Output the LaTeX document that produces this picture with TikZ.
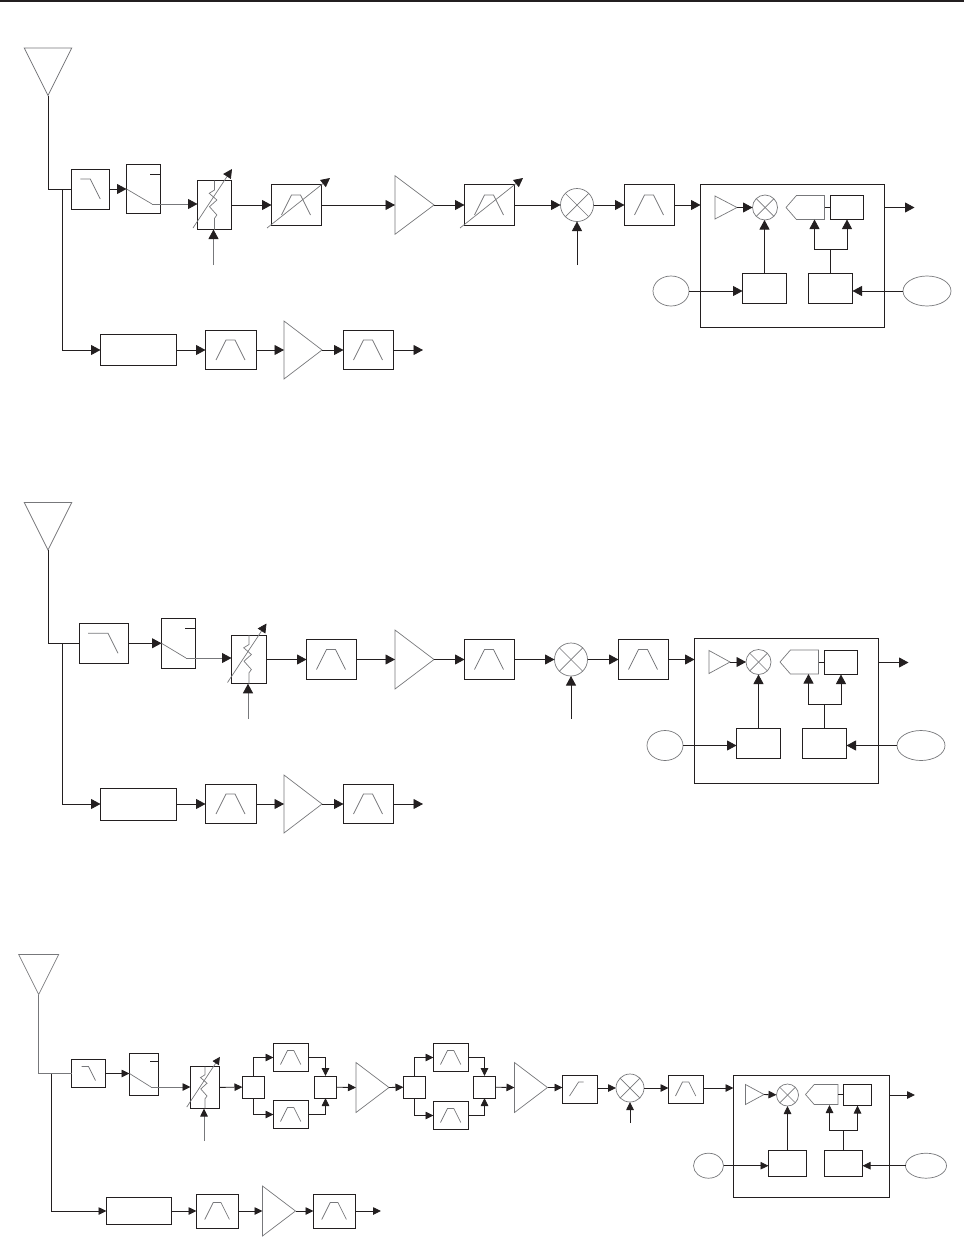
\documentclass[tikz,border=0pt]{standalone}
\usetikzlibrary{arrows.meta,shapes.geometric,shapes.symbols}
\definecolor{ink}{HTML}{231F20}
\definecolor{thinline}{HTML}{77787B}
\tikzset{
  wire/.style={draw=ink, line width=0.9pt},
  glyph/.style={draw=thinline, line width=0.7pt},
  arr/.style={wire, -{Triangle[length=9.5pt,width=10pt,ink]}},
  arrs/.style={wire, -{Triangle[length=8pt,width=7.5pt,ink]}},
  vtip/.style={-{Triangle[length=9pt,width=9pt,ink]}},
  blk/.style 2 args={wire, rectangle, minimum width=#1pt, minimum height=#2pt, inner sep=0pt, outer sep=0pt},
  amp/.style 2 args={glyph, isosceles triangle, isosceles triangle stretches, minimum height=#1pt, minimum width=#2pt, inner sep=0pt, outer sep=0pt, anchor=lower side},
  ant/.style={amp={#1}{#1}, shape border rotate=270},
  mix/.style={glyph, circle, minimum size=#1pt, inner sep=0pt, outer sep=0pt, path picture={
    \draw[glyph] (path picture bounding box.north west) -- (path picture bounding box.south east);
    \draw[glyph] (path picture bounding box.south west) -- (path picture bounding box.north east);}},
  osc/.style 2 args={glyph, ellipse, minimum width=#1pt, minimum height=#2pt, inner sep=0pt, outer sep=0pt},
  pent/.style 2 args={glyph, signal, signal to=west, signal pointer angle=98, minimum width=#1pt, minimum height=#2pt, inner sep=0pt, outer sep=0pt, anchor=east},
  bandpass/.pic={\draw[glyph] (-15,10) -- (-5,-10) -- (4,-10) -- (14,10);},
  highpass/.pic={\draw[glyph] (-15,10) -- (-2,-10) -- (5,-10);},
  lowpass/.pic={\draw[glyph] (#1,-10) -- (0,-10) -- (10,10);},
  zigzag/.pic={\draw[glyph] (0,-24.5) -- (0,-15) -- (-5.3,-11.7) -- (2.4,-5) -- (-5,1.7) -- (2.4,10) -- (0,13.3) -- (0,24.5);
    \draw[glyph, vtip] (-21.5,23) -- (17.5,-36);},
  tune/.pic={\draw[glyph, vtip] (-29.5,23) -- (33.5,-27);},
}

\begin{document}
\begin{tikzpicture}[x=1pt, y=-1pt]
  \useasboundingbox (0,0) rectangle (964,1237);
  \fill[ink] (0,0) rectangle (964,2.4);

  \node[ant=47.5] (an1) at (48,48) {};
  \node[blk={38.5}{40}] (lp1) at (90.25,189) {};
  \node[blk={34}{48.5}] (sw1) at (143.5,188.75) {};
  \node[blk={34}{49}] (at1) at (214.5,205) {};
  \node[blk={50}{41}] (vb1) at (296.5,205) {};
  \node[amp={39}{58.5}] (am1) at (395,205) {};
  \node[blk={50}{41}] (vb2) at (489.5,205) {};
  \node[mix=33] (mx1) at (577,205) {};
  \node[blk={50}{41}] (bp1) at (649.5,205) {};
  \node[blk={184}{142.5}] (bb1) at (792.5,255.75) {};
  \node[amp={22}{23}] (ia1) at (715,207.5) {};
  \node[mix=25] (im1) at (765,207.5) {};
  \node[pent={38.5}{24}] (pn1) at (824.5,207.5) {};
  \node[blk={33}{24}] (sb1) at (847,207.5) {};
  \node[blk={44}{30}] (cl1) at (764.5,288.5) {};
  \node[blk={44}{30}] (cr1) at (830.5,288.5) {};
  \node[osc={36}{30}] (el1) at (671,291) {};
  \node[osc={48}{30}] (el2) at (927,291) {};
  \node[blk={76}{31}] (ln1) at (138.5,350) {};
  \node[blk={51}{39.5}] (bq1) at (231,350) {};
  \node[amp={38}{58}] (aq1) at (284,350) {};
  \node[blk={50}{39.5}] (br1) at (368.5,350) {};
  \coordinate (jn1) at (62,189);
  \coordinate (sk1) at (152,204);
  \coordinate (ct1) at (150,174);
  \coordinate (cn1) at (213.5,265);
  \coordinate (cm1) at (577,265);
  \coordinate (fk1) at (830.5,249.5);
  \coordinate (pi1) at (814.5,219.5);
  \coordinate (ou1) at (914.5,207.5);
  \coordinate (ou2) at (423,350);
  \pic at (lp1.center) {lowpass=-10};
  \pic at (at1.center) {zigzag};
  \pic at (vb1.center) {bandpass};
  \pic at (vb1.center) {tune};
  \pic at (vb2.center) {bandpass};
  \pic at (vb2.center) {tune};
  \pic at (bp1.center) {bandpass};
  \pic at (bq1.center) {bandpass};
  \pic at (br1.center) {bandpass};
  \draw[wire] (an1.apex) |- (lp1.west);
  \draw[arr] (jn1) |- (ln1);
  \draw[arr] (lp1) -- (lp1 -| sw1.west);
  \draw[glyph] (lp1 -| sw1.west) -- (sk1);
  \draw[arr, draw=thinline] (sk1) -- (sk1 -| at1.west);
  \draw[wire] (ct1) -- (ct1 -| sw1.east);
  \draw[arr, draw=thinline] (cn1) -- (cn1 |- at1.south);
  \draw[arr] (at1) -- (vb1);
  \draw[arr] (vb1) -- (am1.lower side);
  \draw[arr] (am1.apex) -- (vb2);
  \draw[arr] (vb2) -- (mx1);
  \draw[arr] (cm1) -- (mx1);
  \draw[arr] (mx1) -- (bp1);
  \draw[arr] (bp1) -- (bp1 -| bb1.west);
  \draw[arr] (ia1.apex) -- (im1);
  \draw[wire] (pn1.east) -- (sb1);
  \draw[arr] (cl1) -- (cl1 |- im1.south);
  \draw[wire] (cr1) -- (fk1);
  \draw[arr] (fk1) -| (pi1);
  \draw[arr] (fk1) -| (sb1);
  \draw[arr] (el1) -- (el1 -| cl1.west);
  \draw[arr] (el2) -- (el2 -| cr1.east);
  \draw[arr] (sb1 -| bb1.east) -- (ou1);
  \draw[arr] (ln1) -- (bq1);
  \draw[arr] (bq1) -- (aq1.lower side);
  \draw[arr] (aq1.apex) -- (br1);
  \draw[arr] (br1) -- (ou2);

  \node[ant=47.5] (an2) at (48,502.5) {};
  \node[blk={49}{39.5}] (lp2) at (104,643.25) {};
  \node[blk={34}{49.5}] (sw2) at (178.5,643.25) {};
  \node[blk={35}{48.5}] (at2) at (249,659.5) {};
  \node[blk={50}{40}] (bp2) at (331.5,659.5) {};
  \node[amp={39}{59}] (am2) at (395,659.5) {};
  \node[blk={50}{40}] (bp3) at (489.5,659.5) {};
  \node[mix=33] (mx2) at (571,659.5) {};
  \node[blk={50}{40}] (bp4) at (643.5,659.5) {};
  \node[blk={184}{144.5}] (bb2) at (786.5,710.75) {};
  \node[amp={21}{23}] (ia2) at (709,662) {};
  \node[mix=25] (im2) at (758.5,662) {};
  \node[pent={38.5}{24}] (pn2) at (818.5,662) {};
  \node[blk={33}{24}] (sb2) at (841,662.5) {};
  \node[blk={44}{30}] (cl2) at (758.5,743.5) {};
  \node[blk={44}{30}] (cr2) at (824.5,743.5) {};
  \node[osc={36}{30}] (el3) at (665,745.5) {};
  \node[osc={48}{30}] (el4) at (921,745.5) {};
  \node[blk={76}{32}] (ln2) at (138.5,804) {};
  \node[blk={51}{39.5}] (bq2) at (231,804) {};
  \node[amp={38}{58}] (aq2) at (284,804) {};
  \node[blk={50}{39.5}] (br2) at (368.5,804) {};
  \coordinate (jn2) at (62,643.25);
  \coordinate (sk2) at (186,658);
  \coordinate (ct2) at (185,628);
  \coordinate (cn2) at (248,719);
  \coordinate (cm2) at (571,719);
  \coordinate (fk2) at (824.5,704.5);
  \coordinate (pi2) at (808.5,674);
  \coordinate (ou3) at (908.5,662.5);
  \coordinate (ou4) at (423,804);
  \pic at ([xshift=4pt]lp2.center) {lowpass=-20};
  \pic at (at2.center) {zigzag};
  \pic at (bp2.center) {bandpass};
  \pic at (bp3.center) {bandpass};
  \pic at (bp4.center) {bandpass};
  \pic at (bq2.center) {bandpass};
  \pic at (br2.center) {bandpass};
  \draw[wire] (an2.apex) |- (lp2.west);
  \draw[arr] (jn2) |- (ln2);
  \draw[arr] (lp2) -- (lp2 -| sw2.west);
  \draw[glyph] (lp2 -| sw2.west) -- (sk2);
  \draw[arr, draw=thinline] (sk2) -- (sk2 -| at2.west);
  \draw[wire] (ct2) -- (ct2 -| sw2.east);
  \draw[arr, draw=thinline] (cn2) -- (cn2 |- at2.south);
  \draw[arr] (at2) -- (bp2);
  \draw[arr] (bp2) -- (am2.lower side);
  \draw[arr] (am2.apex) -- (bp3);
  \draw[arr] (bp3) -- (mx2);
  \draw[arr] (cm2) -- (mx2);
  \draw[arr] (mx2) -- (bp4);
  \draw[arr] (bp4) -- (bp4 -| bb2.west);
  \draw[arr] (ia2.apex) -- (im2);
  \draw[wire] (pn2.east) -- (pn2.east -| sb2.west);
  \draw[arr] (cl2) -- (cl2 |- im2.south);
  \draw[wire] (cr2) -- (fk2);
  \draw[arr] (fk2) -| (pi2);
  \draw[arr] (fk2) -| (sb2);
  \draw[arr] (el3) -- (el3 -| cl2.west);
  \draw[arr] (el4) -- (el4 -| cr2.east);
  \draw[arr] (sb2 -| bb2.east) -- (ou3);
  \draw[arr] (ln2) -- (bq2);
  \draw[arr] (bq2) -- (aq2.lower side);
  \draw[arr] (aq2.apex) -- (br2);
  \draw[arr] (br2) -- (ou4);

  \node[ant=40] (an3) at (38.7,954.5) {};
  \node[blk={34}{27.5}] (lp3) at (88.5,1073.5) {};
  \node[blk={29}{41.5}] (sw3) at (144,1074.25) {};
  \node[blk={29}{42}] (at3) at (205,1087.5) {};
  \node[blk={22}{22}] (sp1) at (253.5,1087) {};
  \node[blk={35}{28}] (bt1) at (291,1057.5) {};
  \node[blk={35}{28}] (bu1) at (291,1114.5) {};
  \node[blk={22}{22}] (cb1) at (325.5,1087) {};
  \node[amp={33}{50}] (am3) at (356,1087.5) {};
  \node[blk={22}{22}] (sp2) at (414.5,1087) {};
  \node[blk={35}{28}] (bt2) at (451,1057.5) {};
  \node[blk={35}{28}] (bu2) at (451,1115.5) {};
  \node[blk={22}{22}] (cb2) at (484.5,1087) {};
  \node[amp={33}{50}] (am4) at (514.5,1087.5) {};
  \node[blk={35}{28}] (hp1) at (580,1089) {};
  \node[mix=28] (mx3) at (630,1088) {};
  \node[blk={35}{28}] (bp5) at (686,1089) {};
  \node[blk={156}{121.5}] (bb3) at (811.5,1136.25) {};
  \node[amp={18.5}{20}] (ia3) at (745.5,1094.5) {};
  \node[mix=22] (im3) at (787.5,1095) {};
  \node[pent={32.5}{20}] (pn3) at (838,1094.5) {};
  \node[blk={28}{21}] (sb3) at (857.5,1095) {};
  \node[blk={38}{26}] (cl3) at (787.5,1163.5) {};
  \node[blk={38}{26}] (cr3) at (843.5,1163.5) {};
  \node[osc={30}{25}] (el5) at (708.5,1165.7) {};
  \node[osc={41}{25}] (el6) at (926,1165.7) {};
  \node[blk={65}{27}] (ln3) at (139,1211) {};
  \node[blk={42}{34}] (bq3) at (217.5,1211) {};
  \node[amp={33}{50}] (aq3) at (262.5,1211) {};
  \node[blk={42}{34}] (br3) at (334.5,1211) {};
  \coordinate (jn3) at (51.5,1073.5);
  \coordinate (sk3) at (151,1087);
  \coordinate (ct3) at (150,1061.5);
  \coordinate (cn3) at (204,1141);
  \coordinate (cm3) at (630,1123);
  \coordinate (fk3) at (843.5,1130.5);
  \coordinate (pi3) at (829.5,1105);
  \coordinate (ou5) at (915,1095);
  \coordinate (ou6) at (381,1211);
  \pic[scale=.7] at (lp3.center) {lowpass=-10};
  \pic[scale=.85, vtip/.style={-{Triangle[length=7.5pt,width=7.5pt,ink]}}] at (at3.center) {zigzag};
  \pic[scale=.7] at (bt1.center) {bandpass};
  \pic[scale=.7] at (bu1.center) {bandpass};
  \pic[scale=.7] at (bt2.center) {bandpass};
  \pic[scale=.7] at (bu2.center) {bandpass};
  \pic[scale=.7] at (hp1.center) {highpass};
  \pic[scale=.7] at (bp5.center) {bandpass};
  \pic[scale=.85] at (bq3.center) {bandpass};
  \pic[scale=.85] at (br3.center) {bandpass};
  \draw[glyph] (an3.apex) |- (lp3.west);
  \draw[arrs] (jn3) |- (ln3);
  \draw[arrs] (lp3) -- (lp3 -| sw3.west);
  \draw[glyph] (lp3 -| sw3.west) -- (sk3);
  \draw[arrs, draw=thinline] (sk3) -- (sk3 -| at3.west);
  \draw[wire] (ct3) -- (ct3 -| sw3.east);
  \draw[arrs, draw=thinline] (cn3) -- (cn3 |- at3.south);
  \draw[arrs] (at3) -- (sp1);
  \draw[arrs] (sp1) |- (bt1);
  \draw[arrs] (sp1) |- (bu1);
  \draw[arrs] (bt1) -| (cb1);
  \draw[arrs] (bu1) -| (cb1);
  \draw[arrs] (cb1) -- (am3.lower side);
  \draw[arrs] (am3.apex) -- (sp2);
  \draw[arrs] (sp2) |- (bt2);
  \draw[arrs] (sp2) |- (bu2);
  \draw[arrs] (bt2) -| (cb2);
  \draw[arrs] (bu2) -| (cb2);
  \draw[arrs] (cb2) -- (am4.lower side);
  \draw[arrs] (am4.apex) -- (am4.apex -| hp1.west);
  \draw[arrs] (mx3 -| hp1.east) -- (mx3);
  \draw[arrs] (cm3) -- (mx3);
  \draw[arrs] (mx3) -- (mx3 -| bp5.west);
  \draw[arrs] (mx3 -| bp5.east) -- (mx3 -| bb3.west);
  \draw[arrs] (ia3.apex) -- (im3);
  \draw[wire] (pn3.east) -- (pn3.east -| sb3.west);
  \draw[arrs] (cl3) -- (cl3 |- im3.south);
  \draw[wire] (cr3) -- (fk3);
  \draw[arrs] (fk3) -| (pi3);
  \draw[arrs] (fk3) -| (sb3);
  \draw[arrs] (el5) -- (el5 -| cl3.west);
  \draw[arrs] (el6) -- (el6 -| cr3.east);
  \draw[arrs] (sb3 -| bb3.east) -- (ou5);
  \draw[arrs] (ln3) -- (bq3);
  \draw[arrs] (bq3) -- (aq3.lower side);
  \draw[arrs] (aq3.apex) -- (br3);
  \draw[arrs] (br3) -- (ou6);
\end{tikzpicture}
\end{document}
